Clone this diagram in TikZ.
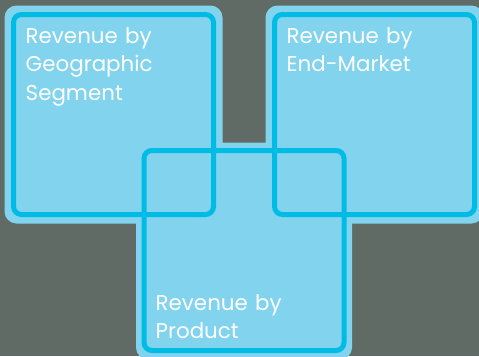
\documentclass[tikz,border=0pt]{standalone}
\usepackage{fontspec}
\setmainfont{Poppins}
\usetikzlibrary{backgrounds}
\definecolor{slate}{HTML}{5F6B64}
\definecolor{paleblue}{HTML}{82D3EE}
\definecolor{lineblue}{HTML}{00BCE5}
\begin{document}
\begin{tikzpicture}[x=1pt, y=-1pt,
	panel/.style = {draw=lineblue, line width=5pt, rounded corners=8pt, minimum width=200pt, minimum height=200pt, inner sep=0pt, outer sep=0pt},
	halo/.style = {fill=paleblue, rounded corners=12pt},
	caption/.style = {text=white, font=\fontsize{21.4}{28.5}\selectfont, align=left, text width=160pt, inner sep=0pt, anchor=base west}]

		\useasboundingbox (0,0) rectangle (479,356);

		\node[panel] (geo) at (113.5,114.5) {};
		\node[panel] (market) at (374.5,114.5) {};
		\node[panel] (product) at (244,250.5) {};

		\node[caption] (geotext) at (25.5,43) {Revenue by\\Geographic\\Segment};
		\node[caption] (markettext) at (286.5,43) {Revenue by\\End-Market};
		\node[caption] (producttext) at (155.5,310) {Revenue by\\Product};

		\begin{scope}[on background layer]
			\fill[slate] (0,0) rectangle (479,356);
			\fill[halo] ([shift={(-9,-9)}]geo.north west) rectangle ([shift={(9,9)}]geo.south east);
			\fill[halo] ([shift={(-9,-9)}]market.north west) rectangle ([shift={(9,9)}]market.south east);
			\fill[halo] ([shift={(-8,-8)}]product.north west) rectangle ([shift={(8,9)}]product.south east);
		\end{scope}
	\end{tikzpicture}
\end{document}
